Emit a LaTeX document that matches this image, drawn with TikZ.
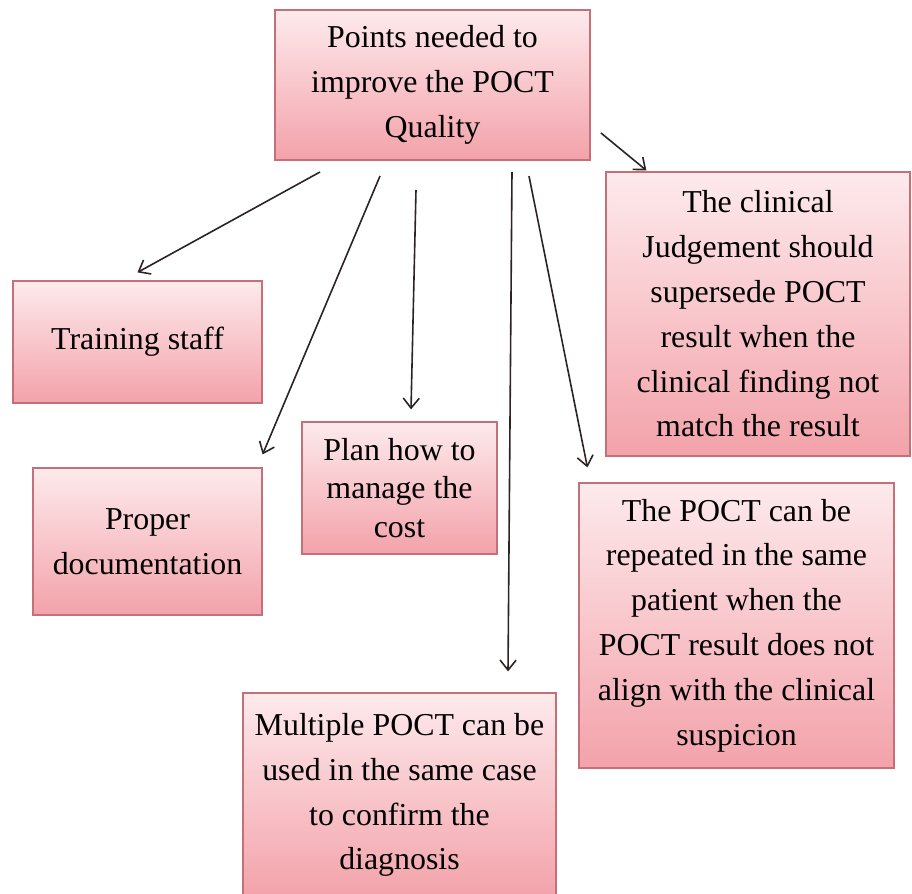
\documentclass[tikz,border=0pt]{standalone}
\usepackage{fontspec}
\setmainfont{Liberation Serif}
\usetikzlibrary{arrows.meta}
\definecolor{rosaTop}{RGB}{253,234,236}
\definecolor{rosaBot}{RGB}{243,162,170}
\definecolor{rosaBox}{RGB}{196,112,120}
\definecolor{flecha}{RGB}{45,35,35}
\tikzset{
  caja/.style={draw=rosaBox, line width=1.2bp, top color=rosaTop,
    bottom color=rosaBot, align=center, inner sep=0pt,
    font=\fontsize{32}{45}\selectfont},
  flechita/.style={draw=flecha, line width=1.6bp,
    -{Straight Barb[length=10bp,width=16bp]}}
}

\begin{document}
\begin{tikzpicture}[x=1bp,y=-1bp]
  \useasboundingbox (0,0) rectangle (912,894);
  % Title box
  \node[caja, minimum width=315bp, minimum height=150bp] (top) at (432.5,85)
    {Points needed to\\improve the POCT\\Quality};
  % Left column
  \node[caja, minimum width=249bp, minimum height=122bp] (train) at (137.5,342)
    {Training staff};
  \node[caja, minimum width=229bp, minimum height=147bp] (doc) at (147.5,541.5)
    {Proper\\documentation};
  \node[caja, minimum width=195bp, minimum height=132bp,
    font=\fontsize{32}{39}\selectfont] (plan) at (399.5,488)
    {Plan how to\\manage the\\cost};
  % Bottom box
  \node[caja, minimum width=313bp, minimum height=204bp] (multi) at (399.5,795)
    {Multiple POCT can be\\used in the same case\\to confirm the\\diagnosis};
  % Right column
  \node[caja, minimum width=304bp, minimum height=284bp] (clin) at (758,314)
    {The clinical\\Judgement should\\supersede POCT\\result when the\\clinical finding not\\match the result};
  \node[caja, minimum width=315bp, minimum height=285bp] (rep) at (736.5,625.5)
    {The POCT can be\\repeated in the same\\patient when the\\POCT result does not\\align with the clinical\\suspicion};
  % Arrow starts
  \coordinate (s1) at (320,172);
  \coordinate (s2) at (380,176);
  \coordinate (s3) at (416,190);
  \coordinate (s4) at (512,172);
  \coordinate (s5) at (529,176);
  \coordinate (s6) at (601,133);
  % Arrows
  \draw[flechita] (s1) -- ([yshift=8bp]train.north);
  \draw[flechita] (s2) -- ([yshift=13bp]doc.north east);
  \draw[flechita] (s3) -- ([xshift=11.5bp,yshift=12bp]plan.north);
  \draw[flechita] (s4) -- ([xshift=108.5bp,yshift=21bp]multi.north);
  \draw[flechita] (s5) -- ([xshift=9bp,yshift=15bp]rep.north west);
  \draw[flechita] (s6) -- ([xshift=41bp,yshift=1bp]clin.north west);
\end{tikzpicture}
\end{document}
